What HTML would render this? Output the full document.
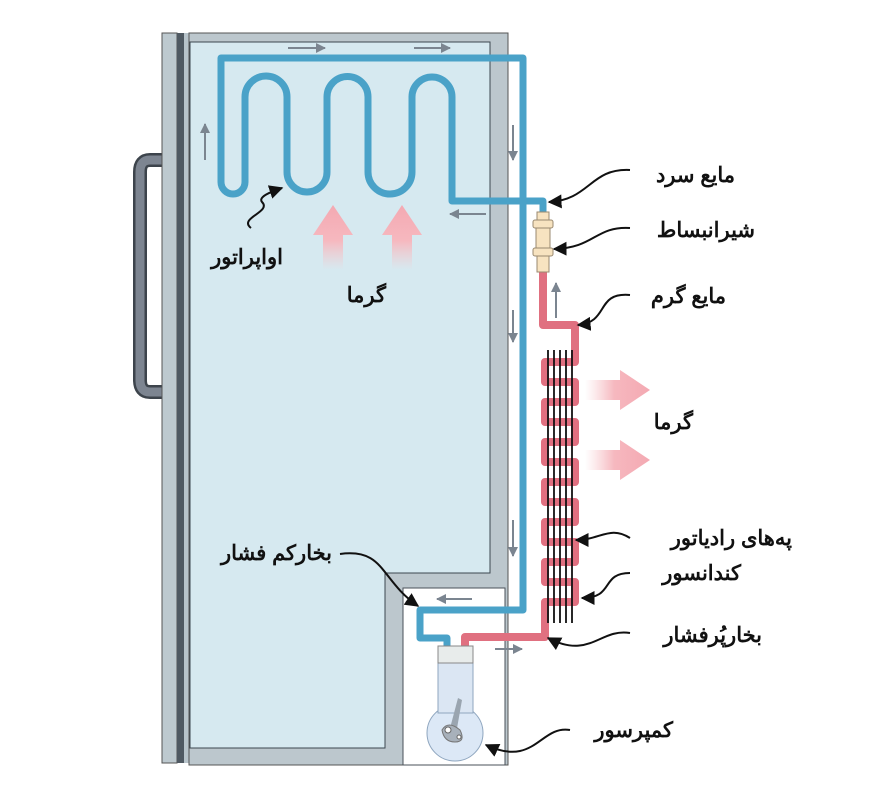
<!DOCTYPE html>
<html><head><meta charset="utf-8"><style>
html,body{margin:0;padding:0;background:#fff;}
svg{display:block}
text{font-family:"Liberation Sans","Noto Sans CJK SC",sans-serif;font-size:21px;font-weight:bold;fill:#111;}
</style></head><body>
<svg width="874" height="800" viewBox="0 0 874 800" xmlns="http://www.w3.org/2000/svg">
<defs>
<linearGradient id="gu" x1="0" y1="0" x2="0" y2="1"><stop offset="0" stop-color="#f4a9b2"/><stop offset="0.55" stop-color="#f6b8bf"/><stop offset="1" stop-color="#f6c8cc" stop-opacity="0"/></linearGradient>
<linearGradient id="gr" x1="1" y1="0" x2="0" y2="0"><stop offset="0" stop-color="#f4a9b2"/><stop offset="0.55" stop-color="#f6b8bf"/><stop offset="1" stop-color="#f6c8cc" stop-opacity="0"/></linearGradient>
<marker id="ah" viewBox="0 0 10 10" refX="9" refY="5" markerWidth="7" markerHeight="7" orient="auto"><path d="M0,0 L10,5 L0,10 z" fill="#111"/></marker>
<marker id="ga" viewBox="0 0 10 10" refX="9" refY="5" markerWidth="5" markerHeight="5" orient="auto"><path d="M0,0 L10,5 L0,10 z" fill="#7b8590"/></marker>
</defs>
<!-- handle -->
<path d="M162,160 L150,160 Q140,160 140,172 L140,380 Q140,392 150,392 L162,392" fill="none" stroke="#3d444c" stroke-width="14"/>
<path d="M162,160 L150,160 Q140,160 140,172 L140,380 Q140,392 150,392 L162,392" fill="none" stroke="#7d8591" stroke-width="9"/>
<!-- door -->
<rect x="162" y="33" width="15" height="730" fill="#bdc9cf" stroke="#555" stroke-width="1"/>
<rect x="177" y="33" width="7" height="730" fill="#4f5962"/>
<rect x="184" y="33" width="6" height="730" fill="#b7c3ca"/>
<!-- cabinet -->
<rect x="189" y="33" width="319" height="732" fill="#bcc7cd" stroke="#555" stroke-width="1"/>
<path d="M190,42 L490,42 L490,573 L385,573 L385,748 L190,748 Z" fill="#d6e9f0" stroke="#3c4750" stroke-width="1"/>
<rect x="403" y="588" width="102" height="177" fill="#fff" stroke="#4a5159" stroke-width="1"/>
<!-- gray flow arrows -->
<g stroke="#7b8590" stroke-width="2" fill="none" marker-end="url(#ga)">
<line x1="288" y1="48" x2="325" y2="48"/><line x1="414" y1="48" x2="450" y2="48"/>
<line x1="205" y1="160" x2="205" y2="124"/>
<line x1="513" y1="125" x2="513" y2="160"/>
<line x1="486" y1="214" x2="450" y2="214"/>
<line x1="513" y1="310" x2="513" y2="342"/>
<line x1="513" y1="520" x2="513" y2="556"/>
<line x1="472" y1="599" x2="437" y2="599"/>
<line x1="495" y1="649" x2="522" y2="649"/>
<line x1="556" y1="318" x2="556" y2="283"/>
</g>
<!-- heat arrows -->
<path d="M323,270 L323,235 L313,235 L333,205 L353,235 L343,235 L343,270 Z" fill="url(#gu)"/>
<path d="M392,270 L392,235 L382,235 L402,205 L422,235 L412,235 L412,270 Z" fill="url(#gu)"/>
<path d="M585,380 L620,380 L620,370 L650,390 L620,410 L620,400 L585,400 Z" fill="url(#gr)"/>
<path d="M585,450 L620,450 L620,440 L650,460 L620,480 L620,470 L585,470 Z" fill="url(#gr)"/>
<!-- blue tube -->
<path d="M543,215 L543,201 L452,201 L452,97 A20,20 0 0 0 412,97 L412,172 A22,22 0 0 1 368,172 L368,97 A20.5,20.5 0 0 0 327,97 L327,172 A20,20 0 0 1 287,172 L287,97 A21,21 0 0 0 245,97 L245,182 A12,12 0 0 1 221,182 L221,58 L523,58 L523,610 L420,610 L420,638 L447,638 L447,648" fill="none" stroke="#4aa2c8" stroke-width="7" stroke-linejoin="round"/>
<!-- red tube -->
<path d="M543,272 L543,325 L575,325 L575,362 L545,362 L545,382 L575,382 L575,402 L545,402 L545,422 L575,422 L575,442 L545,442 L545,462 L575,462 L575,482 L545,482 L545,502 L575,502 L575,522 L545,522 L545,542 L575,542 L575,562 L545,562 L545,582 L575,582 L575,602 L545,602 L545,637 L465,637 L465,648" fill="none" stroke="#e07080" stroke-width="8" stroke-linejoin="round"/>
<!-- fins -->
<g stroke="#111" stroke-width="1.8">
<line x1="548" y1="350" x2="548" y2="623"/><line x1="554" y1="350" x2="554" y2="623"/><line x1="560" y1="350" x2="560" y2="623"/><line x1="566" y1="350" x2="566" y2="623"/><line x1="572" y1="350" x2="572" y2="623"/>
</g>
<!-- valve -->
<g fill="#f7e3c0" stroke="#9a8a70" stroke-width="1">
<rect x="537" y="212" width="12" height="8"/>
<rect x="533" y="220" width="20" height="8" rx="2"/>
<rect x="536" y="228" width="14" height="20"/>
<rect x="533" y="248" width="20" height="8" rx="2"/>
<rect x="537" y="256" width="12" height="16"/>
</g>
<!-- compressor -->
<g stroke="#8fa6bf" stroke-width="1">
<circle cx="455" cy="733" r="28" fill="#dce8f6"/>
<rect x="438" y="663" width="35" height="50" fill="#dbe6f3"/>
<rect x="438" y="646" width="35" height="17" fill="#e8eceb" stroke="#888"/>
</g>
<path d="M449,732 L458,698 L462,700 L456,734 Z" fill="#9aa5b0"/>
<path d="M442,730 Q448,720 460,730 Q466,742 455,742 Q444,742 442,730 Z" fill="#a8b1bb" stroke="#777" stroke-width="1"/>
<circle cx="448" cy="730" r="3" fill="#fff" stroke="#666"/><circle cx="459" cy="737" r="2" fill="#fff" stroke="#666"/>
<!-- leaders -->
<g fill="none" stroke="#111" stroke-width="2" marker-end="url(#ah)">
<path d="M251,228 C238,218 272,212 262,202 C258,197 270,192 282,188"/>
<path d="M630,170 C590,168 590,200 549,202"/>
<path d="M630,228 C595,226 595,248 554,249"/>
<path d="M630,295 C595,292 610,322 578,325"/>
<path d="M630,538 C610,525 600,540 576,540"/>
<path d="M630,573 C600,573 615,598 582,598"/>
<path d="M630,633 C600,628 590,660 548,638"/>
<path d="M340,554 C385,548 380,580 418,606"/>
<path d="M570,730 C540,725 535,768 486,745"/>
</g>
<!-- labels -->
<g direction="rtl">
<text x="283" y="264" text-anchor="start">اواپراتور</text>
<text x="386" y="302" text-anchor="start">گرما</text>
<text x="735" y="182" text-anchor="start">مایع سرد</text>
<text x="755" y="237" text-anchor="start">شیرانبساط</text>
<text x="726" y="303" text-anchor="start">مایع گرم</text>
<text x="693" y="429" text-anchor="start">گرما</text>
<text x="792" y="545" text-anchor="start">په‌های رادیاتور</text>
<text x="741" y="580" text-anchor="start">کندانسور</text>
<text x="762" y="642" text-anchor="start">بخارپُرفشار</text>
<text x="332" y="560" text-anchor="start">بخارکم فشار</text>
<text x="673" y="737" text-anchor="start">کمپرسور</text>
</g>
</svg>
</body></html>
